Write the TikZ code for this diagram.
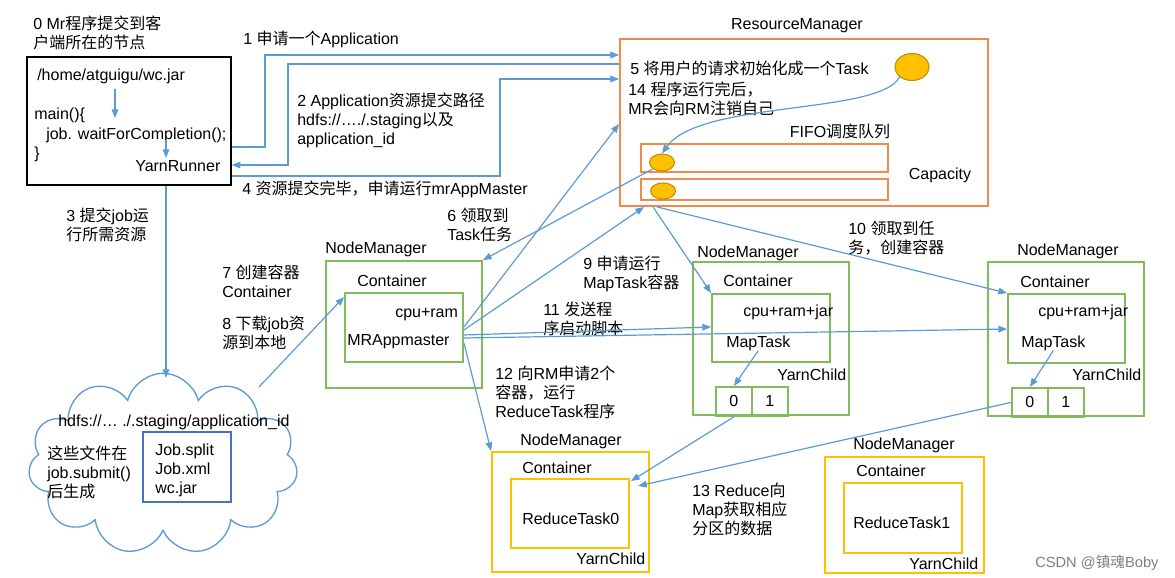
\documentclass[tikz,border=0pt]{standalone}
\usepackage{fontspec}
\setmainfont{Liberation Sans}
\newfontfamily\cjk{Noto Sans CJK SC}
\usetikzlibrary{arrows.meta,shapes.geometric,shapes.symbols,fit}
\definecolor{cblue}{HTML}{5B9BD5}
\definecolor{cgreen}{HTML}{82BB5B}
\definecolor{corange}{HTML}{F08A4B}
\definecolor{cgold}{HTML}{FFC000}
\definecolor{cgoldd}{HTML}{BF9000}
\definecolor{cnavy}{HTML}{4472C4}
\newcommand\ml[1]{\vtop{\baselineskip=14.25pt\halign{##\hfil\cr#1\crcr}}}
\begin{document}
\begin{tikzpicture}[x=0.75pt,y=-0.75pt,
  txt/.style={inner sep=0pt, anchor=base west, font=\fontsize{12}{14.25}\selectfont},
  ctxt/.style={txt, anchor=base},
  arr/.style={draw=cblue, line width=0.9pt, -{Triangle[length=6.5pt,width=5pt]}},
  orbox/.style={draw=corange, line width=1.4pt, inner sep=0pt},
  grbox/.style={draw=cgreen, line width=1.4pt, inner sep=0pt},
  gdbox/.style={draw=cgold, line width=1.4pt, inner sep=0pt},
  cellbox/.style={grbox, minimum width=27pt, minimum height=21.75pt, anchor=north west, font=\fontsize{12}{14.25}\selectfont},
  task/.style={ellipse, fill=cgold, draw=cgoldd, line width=0.8pt, inner sep=0pt}]
\useasboundingbox (0,0) rectangle (1175,578);

% ---------- client ----------
\node[draw=black, line width=1.1pt, inner sep=0pt, fit={(27,57)(231,185)}] (client) {};
\node[txt] (l0) at (33,29) {\ml{0 Mr{\cjk 程序提交到客}\cr{\cjk 户端所在的节点}}};
\node[txt] (jar) at (37,80) {/home/atguigu/wc.jar};
\node[txt] (main) at (34,119) {main()\{};
\node[txt] (wait) at (46,139) {job. waitForCompletion();};
\node[txt] (close) at (34,158) {\}};
\node[txt] (yr) at (135,171) {YarnRunner};
\coordinate (i1a) at (115,89);
\coordinate (i1b) at (115,118);
\coordinate (i2a) at (166,140);
\coordinate (i2b) at (166,158);
\draw[arr] (i1a) -- (i1b);
\draw[arr] (i2a) -- (i2b);

% ---------- resource manager ----------
\node[ctxt] (rmlabel) at (797,30) {ResourceManager};
\node[orbox, fit={(620,39)(988,206)}] (rm) {};
\node[txt] (l5) at (630,74) {5 {\cjk 将用户的请求初始化成一个}Task};
\node[txt] (l14) at (628,95) {\ml{14 {\cjk 程序运行完后，}\cr MR{\cjk 会向}RM{\cjk 注销自己}}};
\node[ctxt] (fifo) at (840,137.5) {FIFO{\cjk 调度队列}};
\node[orbox, line width=1.2pt, fit={(641,144)(888,172)}] (q1) {};
\node[orbox, line width=1.2pt, fit={(641,179)(888,200)}] (q2) {};
\node[ctxt] (cap) at (940,179) {Capacity};
\node[task, minimum width=25.5pt, minimum height=20.25pt] (bigtask) at (912,67) {};
\node[task, minimum width=18.75pt, minimum height=12.75pt] (t1) at (662,162.5) {};
\node[task, minimum width=18.75pt, minimum height=12pt] (t2) at (663,191) {};
\draw[arr] (bigtask.south west) .. controls (880,115) and (700,100) .. (t1.north);

% ---------- labels of client <-> RM ----------
\node[txt] (l1) at (243,44) {1 {\cjk 申请一个}Application};
\node[txt] (l2) at (297,106) {\ml{2 Application{\cjk 资源提交路径}\cr hdfs://…./.staging{\cjk 以及}\cr application\_id}};
\node[txt] (l4) at (242,194) {4 {\cjk 资源提交完毕，申请运行}mrAppMaster};
\node[txt] (l3) at (66,221) {\ml{3 {\cjk 提交}job{\cjk 运}\cr{\cjk 行所需资源}}};
\draw[arr] (client.east |- 0,147) -| (265,55) -- (rm.west |- 0,55);
\draw[arr] (rm.west |- 0,64) -| (288,165) -- (client.east |- 0,165);
\draw[arr] (client.east |- 0,176) -| (500,79) -- (rm.west |- 0,79);

% ---------- cloud ----------
\node[cloud, draw=cblue, line width=1pt, cloud puffs=11, aspect=1.48,
      minimum width=202pt, minimum height=136pt, inner sep=0pt] (cloud) at (163,464) {};
\node[txt] (hdfs) at (58,426) {hdfs://… ./.staging/application\_id};
\node[draw=cnavy, line width=1pt, inner sep=0pt, fit={(143,432)(231,502)}] (files) {};
\node[txt] (filelist) at (155,455) {\ml{Job.split\cr Job.xml\cr wc.jar}};
\node[txt] (gen) at (47,459) {\ml{{\cjk 这些文件在}\cr job.submit()\cr{\cjk 后生成}}};
\coordinate (cloudtop) at (166,378);
\coordinate (cloudne) at (259,387);
\draw[arr] (client.south -| 166,0) -- (cloudtop);

% ---------- NodeManager with MRAppMaster ----------
\node[txt] (nm1label) at (325,253) {NodeManager};
\node[grbox, fit={(326,261)(482,388)}] (nm1) {};
\node[txt] (nm1cont) at (357,286) {Container};
\node[grbox, fit={(345,293)(463,362)}] (c1) {};
\node[txt] (cpu1) at (395,317) {cpu+ram};
\node[txt] (mram) at (347,345) {MRAppmaster};
\node[txt] (l6) at (447,221) {\ml{6 {\cjk 领取到}\cr Task{\cjk 任务}}};
\node[txt] (l7) at (222,278) {\ml{7 {\cjk 创建容器}\cr Container}};
\node[txt] (l8) at (222,329) {\ml{8 {\cjk 下载}job{\cjk 资}\cr{\cjk 源到本地}}};
\draw[arr] (cloudne) -- (c1.west |- 0,297);
\draw[arr] (t1.south west) -- (nm1.north east);

% ---------- NodeManager 2 ----------
\node[txt] (nm2label) at (697,257) {NodeManager};
\node[grbox, fit={(693,262)(849,415)}] (nm2) {};
\node[txt] (nm2cont) at (723,286) {Container};
\node[grbox, fit={(712,294)(830,362)}] (c2) {};
\node[txt] (cpu2) at (743,316) {cpu+ram+jar};
\node[txt] (mt2) at (726,347) {MapTask};
\node[txt] (yc2) at (777,380) {YarnChild};
\node[cellbox] (c20) at (715,386) {0};
\node[cellbox] (c21) at (751,386) {1};
\draw[arr] (mt2.south) -- (c20.north);

% ---------- NodeManager 3 ----------
\node[txt] (nm3label) at (1017,255) {NodeManager};
\node[grbox, fit={(988,262)(1144,416)}] (nm3) {};
\node[txt] (nm3cont) at (1020,287) {Container};
\node[grbox, fit={(1008,294)(1125,363)}] (c3) {};
\node[txt] (cpu3) at (1038,316) {cpu+ram+jar};
\node[txt] (mt3) at (1021,347) {MapTask};
\node[txt] (yc3) at (1072,380) {YarnChild};
\node[cellbox] (c30) at (1011,387) {0};
\node[cellbox] (c31) at (1047,387) {1};
\draw[arr] (mt3.south) -- (c30.north);

% ---------- reduce NodeManagers ----------
\node[txt] (nm4label) at (520,445) {NodeManager};
\node[gdbox, fit={(492,452)(649,572)}] (nm4) {};
\node[txt] (nm4cont) at (522,473) {Container};
\node[gdbox, fit={(511,479)(629,548)}] (c4) {};
\node[txt] (rt0) at (522,524) {ReduceTask0};
\node[txt] (yc4) at (576,564) {YarnChild};
\node[txt] (nm5label) at (853,449) {NodeManager};
\node[gdbox, fit={(825,457)(984,573)}] (nm5) {};
\node[txt] (nm5cont) at (856,476) {Container};
\node[gdbox, fit={(844,483)(962,553)}] (c5) {};
\node[txt] (rt1) at (853,528) {ReduceTask1};
\node[txt] (yc5) at (909,569) {YarnChild};
\node[txt] (l13) at (692,496) {\ml{13 Reduce{\cjk 向}\cr Map{\cjk 获取相应}\cr{\cjk 分区的数据}}};
\coordinate (r0a) at (631,481);
\coordinate (r0b) at (638,486);
\draw[arr] (c20.south) -- (r0a);
\draw[arr] (c30.west) -- (r0b);

% ---------- MRAppMaster connectors ----------
\node[txt] (l9) at (583,269) {\ml{9 {\cjk 申请运行}\cr MapTask{\cjk 容器}}};
\node[txt] (l11) at (543,315) {\ml{11 {\cjk 发送程}\cr{\cjk 序启动脚本}}};
\node[txt] (l12) at (495,379) {\ml{12 {\cjk 向}RM{\cjk 申请}2{\cjk 个}\cr{\cjk 容器，运行}\cr ReduceTask{\cjk 程序}}};
\node[txt] (l10) at (848,234) {\ml{10 {\cjk 领取到任}\cr{\cjk 务，创建容器}}};
\draw[arr] (c1.east |- 0,327) -- (rm.west |- 0,124);
\draw[arr] (c1.east |- 0,330) -- (rm.south -| 644,0);
\draw[arr] (c1.east |- 0,335) -- (c2.west |- 0,327);
\draw[arr] (c1.east |- 0,338) -- (c3.west |- 0,329);
\draw[arr] (c1.east |- 0,343) -- (nm4.north west);
\draw[arr] (rm.south -| 653,0) -- (c2.north west);
\draw[arr] (rm.south -| 657,0) -- (c3.north west);

\node[txt, font=\fontsize{11}{13}\selectfont, text=black!50] (wm) at (1035,567) {CSDN @{\cjk 镇魂}Boby};
\end{tikzpicture}
\end{document}
